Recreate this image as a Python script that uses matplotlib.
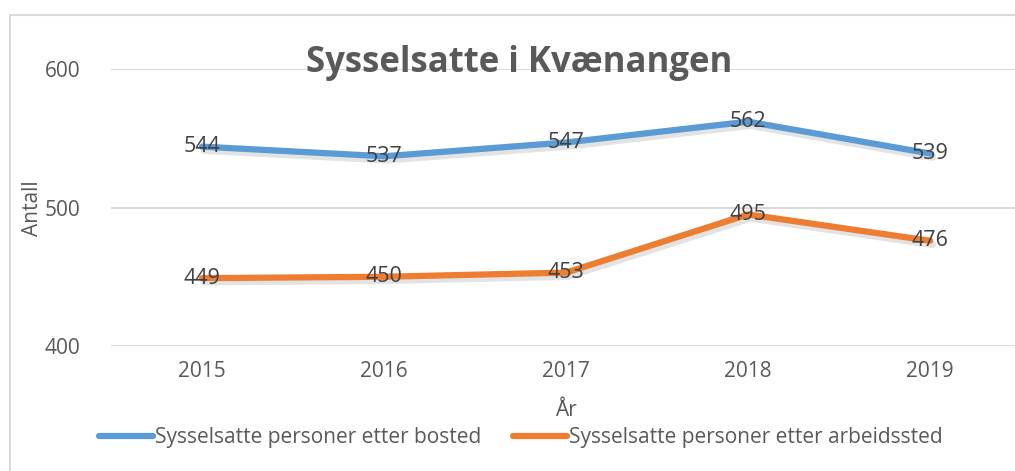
import matplotlib
matplotlib.use("Agg")
import matplotlib.pyplot as plt
import matplotlib.patheffects as pe
from matplotlib.patches import Rectangle

plt.rcParams['font.family'] = ['Open Sans', 'DejaVu Sans']

# data
years = ["2015", "2016", "2017", "2018", "2019"]
bosted = [544, 537, 547, 562, 539]
arbeidssted = [449, 450, 453, 495, 476]
series_names = ["Sysselsatte personer etter bosted", "Sysselsatte personer etter arbeidssted"]
colors = ["#5B9BD5", "#ED7D31"]

fig = plt.figure(figsize=(10.15, 4.71), dpi=100)
ax = fig.add_axes([0.1094, 0.2654, 0.8966, 0.588])

# chart border like excel
fig.patches.append(Rectangle((10 / 1015, -0.1), 1.2, 1.1 - 15 / 471,
                             transform=fig.transFigure, fill=False,
                             edgecolor="#D9D9D9", linewidth=1.5))

x = list(range(len(years)))
shadow = [pe.SimpleLineShadow(offset=(1.5, -2.5), shadow_color="#808080", alpha=0.22, linewidth=5.5),
          pe.Normal()]
for vals, name, c in zip([bosted, arbeidssted], series_names, colors):
    ax.plot(x, vals, color=c, linewidth=4.5, solid_capstyle="round",
            solid_joinstyle="round", label=name, path_effects=shadow, zorder=3)
    for xi, v in zip(x, vals):
        ax.text(xi, v, str(v), ha="center", va="center", fontsize=15.5,
                color="#404040", zorder=4)

ax.set_xlim(-0.5, 4.5)
ax.set_ylim(400, 600)
ax.set_yticks([400, 500, 600])
ax.set_xticks(x)
ax.set_xticklabels(years)
ax.grid(axis="y", color="#D9D9D9", linewidth=1.4)
ax.set_axisbelow(True)
for s in ax.spines.values():
    s.set_visible(False)
ax.tick_params(length=0, labelsize=15, labelcolor="#595959")
ax.tick_params(axis="y", pad=22)
ax.tick_params(axis="x", pad=11)

fig.text(33 / 1015, 1 - 208 / 471, "Antall", rotation=90, ha="center", va="center",
         fontsize=15, color="#595959")
fig.text(566 / 1015, 1 - 410 / 471, "År", ha="center", va="center",
         fontsize=15, color="#595959")
fig.text(519 / 1015, 1 - 63 / 471, "Sysselsatte i Kvænangen", ha="center", va="center",
         fontsize=25, fontweight="bold", color="#595959")

leg = fig.legend(loc="center", bbox_to_anchor=(521 / 1015, 1 - 438 / 471), ncol=2,
                 frameon=False, fontsize=15, labelcolor="#595959",
                 handlelength=2.6, handletextpad=0.1, columnspacing=1.5)
for h in leg.get_lines():
    h.set_path_effects([])

fig.savefig("out.png", dpi=100)
